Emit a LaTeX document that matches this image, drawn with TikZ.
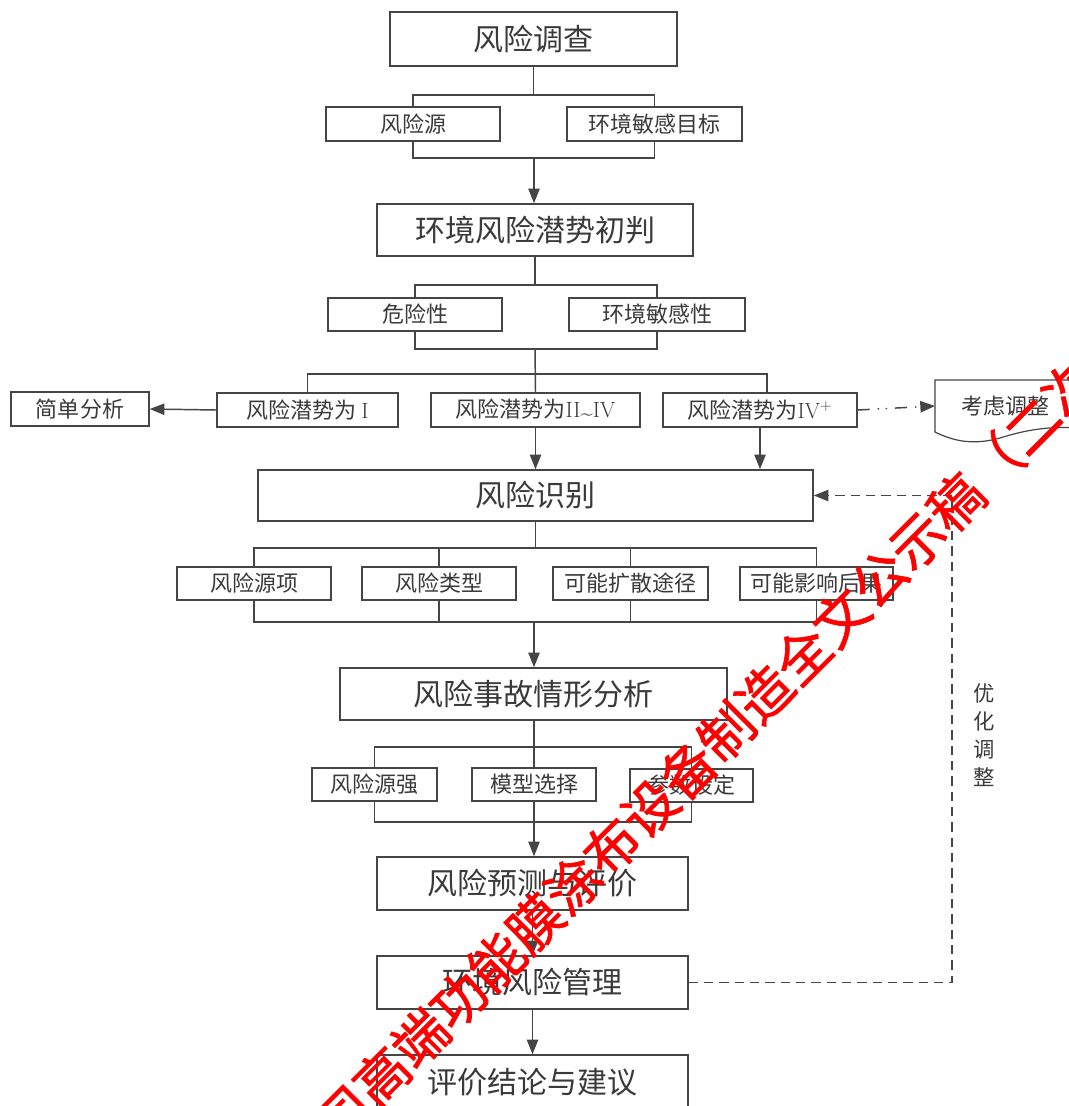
\documentclass[tikz,border=0pt]{standalone}
\usepackage{fontspec}
\newfontfamily\cjk{Noto Sans CJK SC}
\newfontfamily\cjkwm{Noto Sans CJK SC}[FakeBold=1.2]
\usetikzlibrary{arrows.meta,calc}
\definecolor{ln}{HTML}{454545}
\definecolor{tx}{HTML}{3A3A3A}
\newcommand\mybox[7]{\node[#1, minimum width={(#4-#2)*0.75pt}, minimum height={(#5-#3)*0.75pt}] (#6) at ({(#2+#4)/2},{(#3+#5)/2}) {#7};}
\tikzset{
  boxbase/.style={draw=ln, line width=1.1pt, fill=white, inner sep=0pt, text=tx},
  bigbox/.style={boxbase, font=\cjk\fontsize{22.5pt}{24pt}\selectfont},
  smallbox/.style={boxbase, font=\cjk\fontsize{16.5pt}{18pt}\selectfont},
  conn/.style={draw=ln, line width=1.1pt},
  arr/.style={conn, -{Triangle[length=11pt,width=8.5pt]}},
  fbline/.style={conn, dash pattern=on 7pt off 4.5pt},
  dddline/.style={conn, dash pattern=on 9pt off 6pt on 1pt off 5pt on 1pt off 6pt, -{Triangle[length=11pt,width=8.5pt]}},
  wmark/.style={text=red, font=\cjkwm\fontsize{40.6pt}{42pt}\selectfont, inner sep=0pt}
}
\begin{document}
\begin{tikzpicture}[x=0.75pt,y=-0.75pt]
\useasboundingbox (0,0) rectangle (1069,1106);
\fill[white] (0,0) rectangle (1069,1106);

% level 1
\mybox{bigbox}{390}{12}{677}{66}{A}{风险调查}
\mybox{smallbox}{326}{107}{500}{141}{B1}{风险源}
\mybox{smallbox}{567}{107}{742}{141}{B2}{环境敏感目标}
\draw[conn] (A.south) -- (A.south |- 0,95);
\draw[conn] (B1.north) -- (B1.north |- 0,95) -- (B2.north |- 0,95) -- (B2.north);
\draw[conn] (B1.south) -- (B1.south |- 0,158) -- (B2.south |- 0,158) -- (B2.south);
\coordinate (b1) at (534,158);

% level 2
\mybox{bigbox}{377}{204}{693}{256}{C}{环境风险潜势初判}
\draw[arr] (b1) -- (b1 |- C.north);
\mybox{smallbox}{328}{298}{502}{331}{D1}{危险性}
\mybox{smallbox}{569}{298}{745}{331}{D2}{环境敏感性}
\draw[conn] (C.south) -- (C.south |- 0,285);
\draw[conn] (D1.north) -- (D1.north |- 0,285) -- (D2.north |- 0,285) -- (D2.north);
\draw[conn] (D1.south) -- (D1.south |- 0,349) -- (D2.south |- 0,349) -- (D2.south);
\coordinate (b2) at (535,349);

% level 3
\mybox{smallbox}{11}{392}{149}{426}{E0}{简单分析}
\mybox{smallbox}{217}{393}{398}{427}{E1}{风险潜势为 {\rmfamily I}}
\mybox{smallbox}{431}{393}{640}{427}{E2}{风险潜势为{\rmfamily II\raisebox{-0.3ex}{\textasciitilde}IV}}
\mybox{smallbox}{663}{393}{857}{427}{E3}{风险潜势为{\rmfamily IV\textsuperscript{+}}}
\coordinate (t3) at (767,374);
\draw[conn] (b2) -- (E2.north);
\draw[conn] (E1.north) -- (E1.north |- t3) -- (t3) -- (t3 |- E3.north);
\draw[arr] (E1.west) -- (E0.east);

% document shape
\node[inner sep=0pt, minimum width={140*0.75pt}, minimum height={52*0.75pt}, anchor=west, text=tx, font=\cjk\fontsize{16.5pt}{18pt}\selectfont] (F) at (935,406) {考虑调整};
\draw[draw=ln, line width=0.9pt] (1075,380) -- (935,380) -- (935,432)
  .. controls (955,442) and (975,445) .. (1000,438)
  .. controls (1025,430) and (1050,426) .. (1075,428);
\draw[dddline] (E3.east) -- (F.west);

% level 4
\mybox{bigbox}{258}{470}{813}{521}{G}{风险识别}
\draw[arr] (E2.south) -- (E2.south |- G.north);
\draw[arr] (E3.south) -- (E3.south |- G.north);
\mybox{smallbox}{177}{567}{331}{600}{H1}{风险源项}
\mybox{smallbox}{362}{567}{516}{600}{H2}{风险类型}
\mybox{smallbox}{553}{567}{708}{600}{H3}{可能扩散途径}
\mybox{smallbox}{740}{567}{893}{600}{H4}{可能影响后果}
\draw[conn] (G.south) -- (G.south |- 0,548);
\draw[conn] (H1.north) -- (H1.north |- 0,548) -- (H4.north |- 0,548) -- (H4.north);
\draw[conn] (H2.north) -- (H2.north |- 0,548);
\draw[conn] (H3.north) -- (H3.north |- 0,548);
\draw[conn] (H1.south) -- (H1.south |- 0,622) -- (H4.south |- 0,622) -- (H4.south);
\draw[conn] (H2.south) -- (H2.south |- 0,622);
\draw[conn] (H3.south) -- (H3.south |- 0,622);
\coordinate (b4) at (534,622);

% level 5
\mybox{bigbox}{340}{668}{727}{720}{I}{风险事故情形分析}
\draw[arr] (b4) -- (b4 |- I.north);
\mybox{smallbox}{312}{768}{437}{801}{J1}{风险源强}
\mybox{smallbox}{472}{768}{596}{801}{J2}{模型选择}
\mybox{smallbox}{630}{769}{753}{802}{J3}{参数设定}
\draw[conn] (I.south -| J2.north) -- (J2.north);
\draw[conn] (J1.north) -- (J1.north |- 0,747) -- (J3.north |- 0,747) -- (J3.north);
\draw[conn] (J1.south) -- (J1.south |- 0,822) -- (J3.south |- 0,822) -- (J3.south);

% level 6
\mybox{bigbox}{377}{857}{688}{910}{K}{风险预测与评价}
\draw[arr] (J2.south) -- (J2.south |- K.north);
\mybox{bigbox}{377}{956}{688}{1009}{L}{环境风险管理}
\draw[arr] (K.south) -- (L.north);
\mybox{bigbox}{377}{1055}{688}{1130}{M}{}
\node[font=\cjk\fontsize{22.5pt}{24pt}\selectfont, text=tx, inner sep=0pt] (Mt) at (532,1082) {评价结论与建议};
\draw[arr] (L.south) -- (M.north);

% feedback
\coordinate (fr) at (952,0);
\draw[fbline] (L.east) -| (fr |- G.east);
\draw[fbline, -{Triangle[length=11pt,width=8.5pt]}] (fr |- G.east) -- (G.east);
\node[text=tx, font=\cjk\fontsize{16pt}{21pt}\selectfont, align=center, inner sep=0pt] (opt) at (984,735) {优\\化\\调\\整};

% watermark
\node[wmark, rotate=45] (wm) at (707,751) {司高端功能膜涂布设备制造全文公示稿（二次};
\end{tikzpicture}
\end{document}
